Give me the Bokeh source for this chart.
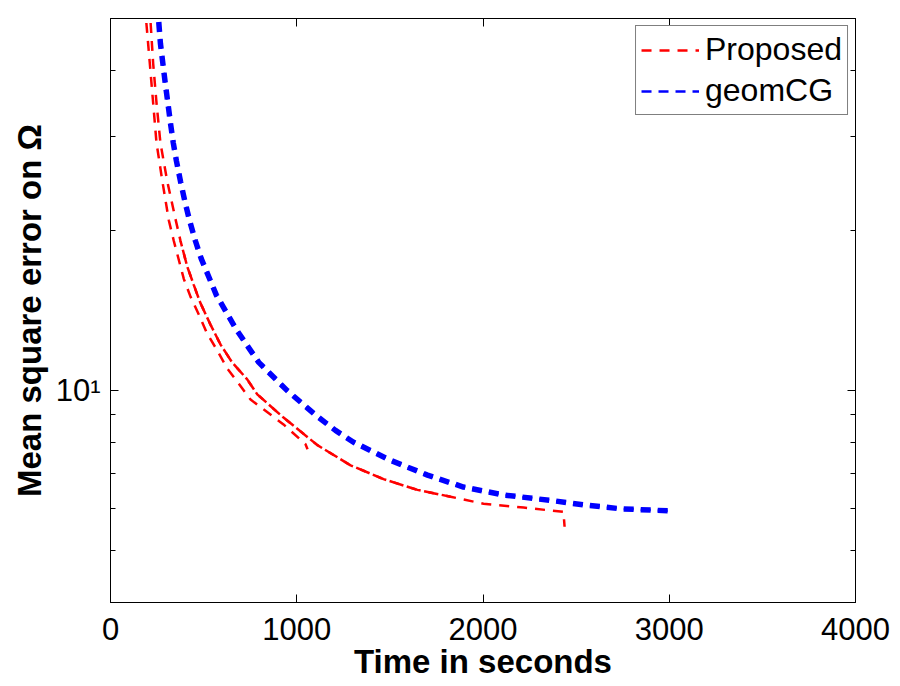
from bokeh.plotting import figure
from bokeh.models import (Range1d, FixedTicker, LinearAxis, LogAxis, Legend,
                          LegendItem, CustomJSTickFormatter)
from bokeh.embed import file_html
from bokeh.resources import INLINE

# ---- data ----
red_a_t = [188, 192, 211, 229, 247, 278, 313, 340, 394, 430, 474, 519, 573,
           627, 689, 752, 929, 1047, 1058]
red_a_y = [53, 49.3, 41.2, 34.7, 29.2, 24.8, 20.9, 19.1, 16.2, 15.0, 13.9,
           12.8, 11.9, 11.0, 10.3, 9.62, 8.64, 7.93, 7.76]

red_b_t = [211, 215, 229, 247, 268, 304, 349, 376, 412, 447, 483, 537, 591,
           653, 734, 788, 929, 1111, 1289, 1466, 1648, 1826, 2003, 2218,
           2432, 2438]
red_b_y = [53, 49.3, 41.2, 34.7, 29.2, 24.8, 21.0, 19.1, 17.1, 15.8, 14.6,
           13.3, 12.2, 11.3, 10.5, 9.84, 8.90, 7.90, 7.24, 6.82, 6.51, 6.32,
           6.13, 6.03, 5.92, 5.55]

red_c_t = [376, 412, 447, 483, 537, 591, 653, 734, 788, 929, 1111, 1289,
           1466, 1648, 1826]
red_c_y = [19.1, 17.1, 15.8, 14.6, 13.3, 12.2, 11.3, 10.5, 9.84, 8.90, 7.90,
           7.24, 6.82, 6.51, 6.32]

blue_t = [255, 259, 268, 281, 294, 308, 322, 337, 354, 376, 399, 424, 456,
          487, 569, 677, 796, 949, 1111, 1208, 1305, 1503, 1702, 1895, 2110,
          2379, 2540, 2738, 3023]
blue_y = [53, 49.3, 44.9, 41.2, 37.8, 34.7, 31.8, 29.2, 27.0, 24.7, 22.7,
          20.9, 19.1, 17.7, 15.1, 13.0, 11.3, 10.0, 8.94, 8.42, 8.0, 7.40,
          6.94, 6.59, 6.37, 6.21, 6.10, 6.0, 5.94]

x_ticks = [0, 1000, 2000, 3000, 4000]
y_major = [10]
y_minor = [5, 6, 7, 8, 9, 20, 30, 40]
y_labels = {10: "10\u00b9"}

FONT = "Liberation Sans"

p = figure(width=896, height=682, x_range=Range1d(0, 4000),
           y_range=Range1d(4, 50), y_axis_type="log",
           output_backend="svg", toolbar_location=None,
           min_border_left=110, min_border_right=41,
           min_border_top=18, min_border_bottom=77)
p.grid.visible = False
p.outline_line_color = "black"
p.outline_line_width = 1
p.background_fill_color = "white"
p.border_fill_color = "white"

ra = p.line(red_a_t, red_a_y, line_color="#ff0000", line_width=2.5,
            line_dash="10 8")
rb = p.line(red_b_t, red_b_y, line_color="#ff0000", line_width=2.5,
            line_dash="10 8")
rc = p.line(red_c_t, red_c_y, line_color="#ff0000", line_width=2.5,
            line_dash="10 8", line_dash_offset=9)
# thin blue run (legend glyph) hidden under the thick overlapping runs
bl_thin = p.line(blue_t, blue_y, line_color="#0000ff", line_width=2.5,
                 line_dash="10 7")
bl = p.line(blue_t, blue_y, line_color="#0000ff", line_width=5.5,
            line_dash="10 7")


def style_axis(ax, show_labels=True):
    ax.axis_line_color = "black"
    ax.axis_line_width = 1
    ax.major_tick_line_color = "black"
    ax.minor_tick_line_color = "black"
    ax.major_tick_in = 8
    ax.major_tick_out = 0
    ax.minor_tick_in = 5
    ax.minor_tick_out = 0
    ax.major_label_text_font = FONT
    ax.major_label_text_font_size = "31px"
    ax.major_label_text_color = "black"
    ax.axis_label_text_font = FONT
    ax.axis_label_text_font_size = "33px"
    ax.axis_label_text_font_style = "bold"
    ax.axis_label_text_color = "black"
    if not show_labels:
        ax.formatter = CustomJSTickFormatter(code="return ''")


xa = p.xaxis[0]
xa.ticker = FixedTicker(ticks=x_ticks, minor_ticks=[])
style_axis(xa)
xa.axis_label = "Time in seconds"
xa.major_label_standoff = 15
xa.axis_label_standoff = 0

ya = p.yaxis[0]
ya.ticker = FixedTicker(ticks=y_major, minor_ticks=y_minor)
style_axis(ya)
ya.major_label_overrides = y_labels
ya.axis_label = "Mean square error on \u03a9"
ya.major_label_standoff = 10
ya.axis_label_standoff = 5

top = LinearAxis(ticker=FixedTicker(ticks=x_ticks, minor_ticks=[]))
style_axis(top, show_labels=False)
top.major_label_standoff = 0
p.add_layout(top, "above")

right = LogAxis(ticker=FixedTicker(ticks=y_major, minor_ticks=y_minor))
style_axis(right, show_labels=False)
right.major_label_standoff = 0
p.add_layout(right, "right")

legend = Legend(items=[LegendItem(label="Proposed", renderers=[rb]),
                       LegendItem(label="geomCG", renderers=[bl_thin])],
                location="top_right")
legend.label_text_font = FONT
legend.label_text_font_size = "32px"
legend.label_text_color = "black"
legend.border_line_color = "black"
legend.border_line_width = 1
legend.background_fill_alpha = 1
legend.glyph_width = 58
legend.glyph_height = 30
legend.label_height = 30
legend.label_standoff = 6
legend.spacing = 4
legend.padding = 5
legend.margin = 7
p.add_layout(legend)

open("out.html", "w").write(file_html(p, INLINE))
